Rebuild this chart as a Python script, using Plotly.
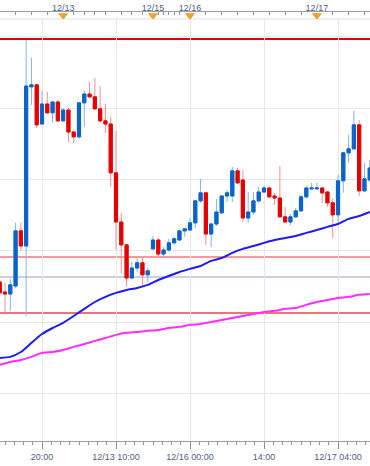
import plotly.graph_objects as go

# ---- candle data (hourly bars, x = bar number; weekend gap removed) ----
bar_index = list(range(-8, 63))
open_ = [102.891, 102.856, 102.849, 102.877, 103.070, 103.017, 103.574, 103.581,
         103.444, 103.514, 103.483, 103.521, 103.455, 103.493, 103.416, 103.399,
         103.518, 103.549, 103.539, 103.497, 103.455, 103.444, 103.273, 103.101,
         103.021, 102.905, 102.940, 102.958, 102.916,
         103.007, 103.038, 102.989, 103.003, 103.028, 103.038, 103.070, 103.073,
         103.098, 103.175, 103.203, 103.059, 103.094, 103.133, 103.192, 103.192,
         103.280, 103.248, 103.115, 103.136, 103.175, 103.206, 103.220, 103.192,
         103.185, 103.119, 103.101, 103.119, 103.140, 103.189, 103.217, 103.217,
         103.220, 103.206, 103.168, 103.126, 103.245, 103.343, 103.357, 103.441,
         103.210, 103.248]
high = [102.898, 102.888, 102.902, 103.098, 103.098, 103.738, 103.675, 103.584,
        103.560, 103.556, 103.525, 103.528, 103.500, 103.500, 103.420, 103.521,
        103.560, 103.591, 103.605, 103.577, 103.514, 103.469, 103.420, 103.133,
        103.024, 102.961, 102.975, 102.975, 102.940,
        103.052, 103.045, 103.014, 103.042, 103.049, 103.073, 103.080, 103.115,
        103.178, 103.252, 103.206, 103.098, 103.182, 103.196, 103.213, 103.294,
        103.290, 103.283, 103.206, 103.206, 103.224, 103.227, 103.224, 103.203,
        103.297, 103.154, 103.129, 103.150, 103.196, 103.227, 103.238, 103.238,
        103.224, 103.210, 103.185, 103.266, 103.346, 103.406, 103.490, 103.458,
        103.308, 103.318]
low = [102.842, 102.783, 102.790, 102.870, 103.000, 102.772, 103.511, 103.430,
       103.441, 103.479, 103.448, 103.451, 103.451, 103.381, 103.378, 103.392,
       103.434, 103.535, 103.493, 103.451, 103.413, 103.224, 103.003, 102.923,
       102.874, 102.902, 102.926, 102.874, 102.891,
       103.003, 102.979, 102.979, 102.996, 103.021, 103.035, 103.049, 103.070,
       103.080, 103.168, 103.021, 103.014, 103.087, 103.129, 103.171, 103.171,
       103.234, 103.101, 103.098, 103.126, 103.168, 103.203, 103.185, 103.161,
       103.115, 103.098, 103.091, 103.115, 103.136, 103.182, 103.213, 103.213,
       103.168, 103.154, 103.045, 103.098, 103.203, 103.308, 103.353, 103.192,
       103.206, 103.241]
close = [102.853, 102.849, 102.881, 103.070, 103.017, 103.577, 103.581, 103.441,
         103.514, 103.483, 103.521, 103.455, 103.493, 103.416, 103.399, 103.518,
         103.549, 103.539, 103.497, 103.455, 103.444, 103.273, 103.101, 103.021,
         102.905, 102.940, 102.958, 102.916, 102.930,
         103.038, 102.989, 103.003, 103.028, 103.042, 103.070, 103.077, 103.098,
         103.175, 103.203, 103.059, 103.094, 103.136, 103.192, 103.203, 103.280,
         103.238, 103.115, 103.136, 103.175, 103.206, 103.220, 103.189, 103.185,
         103.119, 103.101, 103.119, 103.140, 103.189, 103.220, 103.220, 103.220,
         103.203, 103.168, 103.126, 103.245, 103.343, 103.357, 103.441, 103.210,
         103.252, 103.290]

# ---- moving averages (read every 2 bars) ----
ma_index = list(range(-8, 63, 2))
ma_fast = [102.625, 102.629, 102.646, 102.678, 102.709, 102.730, 102.748, 102.772,
           102.797, 102.821, 102.839, 102.853, 102.863, 102.870, 102.881, 102.898,
           102.912, 102.926, 102.937, 102.947, 102.965, 102.975, 102.993, 103.007,
           103.017, 103.028, 103.038, 103.045, 103.052, 103.063, 103.073, 103.084,
           103.094, 103.112, 103.122, 103.136]
ma_slow = [102.601, 102.611, 102.618, 102.629, 102.643, 102.646, 102.653, 102.664,
           102.674, 102.685, 102.695, 102.706, 102.713, 102.716, 102.720, 102.723,
           102.730, 102.734, 102.741, 102.744, 102.751, 102.758, 102.765, 102.772,
           102.779, 102.786, 102.790, 102.797, 102.800, 102.811, 102.821, 102.828,
           102.835, 102.839, 102.846, 102.849]

# ---- horizontal levels ----
level_prices = [103.7415, 102.9785, 102.9085, 102.7825]
level_colors = ["#e30000", "#f27a7a", "#b9bfd8", "#e24848"]
level_widths = [2, 1.5, 1.5, 1.5]

# ---- axis labels ----
bottom_tick_idx = [0, 14, 28, 42, 56]
bottom_tick_text = ["20:00", "12/13 10:00", "12/16 00:00", "14:00", "12/17 04:00"]
date_idx = [4, 21, 28, 52]
date_text = ["12/13", "12/15", "12/16", "12/17"]
top_minor_idx = [-5, -2, 1, 6, 8, 10, 12, 15, 17, 19, 22, 23, 24, 25, 26,
                 31, 34, 37, 40, 43, 46, 49, 55, 58, 61]

UP = "#0a64c8"
DOWN = "#e40000"
UP_W = "#86b3e6"
DOWN_W = "#f29090"
TXT = "#53607e"
FONT = "Liberation Sans, Arial, sans-serif"

body_hi = [max(o, c) for o, c in zip(open_, close)]
body_lo = [min(o, c) for o, c in zip(open_, close)]

fig = go.Figure()
# wicks (lighter)
fig.add_trace(go.Candlestick(
    x=bar_index, open=open_, high=high, low=low, close=close,
    increasing=dict(line=dict(color=UP_W, width=1), fillcolor=UP_W),
    decreasing=dict(line=dict(color=DOWN_W, width=1), fillcolor=DOWN_W),
    hoverinfo="skip", showlegend=False))
# bodies
fig.add_trace(go.Candlestick(
    x=bar_index, open=open_, high=body_hi, low=body_lo, close=close,
    increasing=dict(line=dict(color=UP, width=1), fillcolor=UP),
    decreasing=dict(line=dict(color=DOWN, width=1), fillcolor=DOWN),
    hoverinfo="skip", showlegend=False))
fig.add_trace(go.Scatter(x=ma_index, y=ma_fast, mode="lines",
                         line=dict(color="#1c1cf5", width=2, shape="spline", smoothing=0.6),
                         hoverinfo="skip", showlegend=False))
fig.add_trace(go.Scatter(x=ma_index, y=ma_slow, mode="lines",
                         line=dict(color="#ff2cff", width=2, shape="spline", smoothing=0.6),
                         hoverinfo="skip", showlegend=False))
# date markers on top strip
fig.add_trace(go.Scatter(x=date_idx, y=[0.5] * len(date_idx), xaxis="x2", yaxis="y2",
                         mode="markers",
                         marker=dict(symbol="triangle-down", size=8, color="#f7a326",
                                     line=dict(color="#e08c10", width=0.5)),
                         hoverinfo="skip", showlegend=False))

for p, c, w in zip(level_prices, level_colors, level_widths):
    fig.add_shape(type="line", xref="x domain", x0=0, x1=1, yref="y", y0=p, y1=p,
                  line=dict(color=c, width=w), layer="below")
fig.add_shape(type="line", xref="paper", x0=0, x1=1, yref="y domain", y0=1, y1=1,
              line=dict(color="#dde1e8", width=1), layer="below")

ytop = (441 - 19) / (441 - 12)
fig.update_layout(
    template="none",
    width=370, height=466,
    margin=dict(l=0, r=0, t=12, b=25),
    paper_bgcolor="white", plot_bgcolor="white",
    showlegend=False,
    boxgap=0.4, boxgroupgap=0,
    font=dict(family=FONT, size=9, color=TXT),
    xaxis=dict(range=[-7.946, 62.05], anchor="y",
               tickmode="array", tickvals=bottom_tick_idx, ticktext=bottom_tick_text,
               ticks="outside", ticklen=7, tickcolor="#8c919c", tickwidth=1,
               showline=True, linecolor="#9aa0ab", linewidth=1,
               showgrid=True, gridcolor="#e8e8e8", gridwidth=1, zeroline=False,
               tickfont=dict(family=FONT, size=9, color=TXT),
               minor=dict(tick0=0, dtick=1.75, ticks="outside", ticklen=3,
                          tickcolor="#8c919c", showgrid=False),
               rangeslider=dict(visible=False), automargin=False, fixedrange=True),
    xaxis2=dict(matches="x", anchor="y2", side="top",
                tickmode="array", tickvals=date_idx, ticktext=date_text,
                ticks="", showline=True, linecolor="#9aa0ab", linewidth=1,
                showgrid=False, zeroline=False, ticklabelstandoff=-4,
                tickfont=dict(family=FONT, size=9, color=TXT),
                minor=dict(tickmode="array", tickvals=top_minor_idx, ticks="inside",
                           ticklen=3, tickcolor="#8c919c", showgrid=False),
                rangeslider=dict(visible=False), automargin=False, fixedrange=True),
    yaxis=dict(domain=[0, ytop], range=[102.3345, 103.8115],
               tickmode="linear", tick0=102.5, dtick=0.25,
               showticklabels=False, ticks="", showgrid=True, gridcolor="#e8e8e8",
               zeroline=False, showline=False, automargin=False, fixedrange=True),
    yaxis2=dict(domain=[ytop, 1], range=[0, 1], visible=False, fixedrange=True),
)

fig.write_html("out.html", config={"displayModeBar": False},
               post_script="document.body.style.margin='0';document.body.style.overflow='hidden';")
